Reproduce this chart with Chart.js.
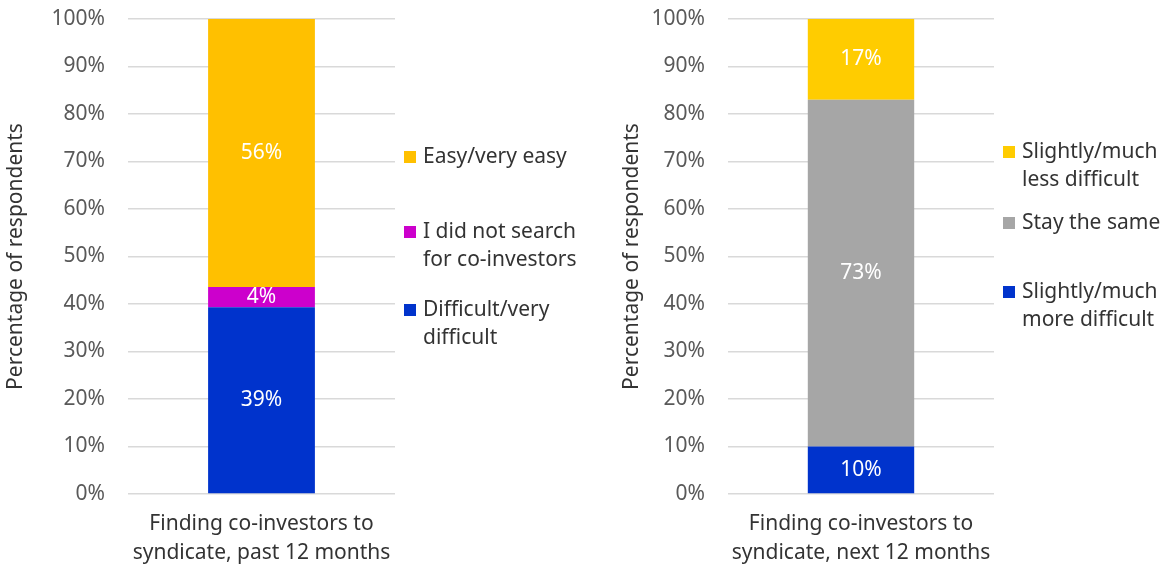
<!DOCTYPE html>
<html lang="en">
<head>
    <meta charset="UTF-8">
    <title>Finding co-investors to syndicate</title>
    <script src="https://cdn.jsdelivr.net/npm/chart.js"></script>
    <style>
        body { margin: 0; background: #fff; }
        #wrap { position: relative; width: 1167px; height: 567px; }
        #leftChart { position: absolute; left: 0; top: 0; }
        #rightChart { position: absolute; left: 600px; top: 0; }
    </style>
</head>
<body>
    <div id="wrap">
        <canvas id="leftChart" width="600" height="567"></canvas>
        <canvas id="rightChart" width="567" height="567"></canvas>
    </div>

    <script>
        // Data
        const pastCategory = [['Finding co-investors to', 'syndicate, past 12 months']];
        const pastSeries = ['Difficult/very difficult', 'I did not search for co-investors', 'Easy/very easy'];
        const pastLegendLines = [['Difficult/very', 'difficult'], ['I did not search', 'for co-investors'], ['Easy/very easy']];
        const pastValues = [39.3, 4.3, 56.4];
        const pastColors = ['#0033CC', '#CC00CC', '#FFC000'];

        const nextCategory = [['Finding co-investors to', 'syndicate, next 12 months']];
        const nextSeries = ['Slightly/much more difficult', 'Stay the same', 'Slightly/much less difficult'];
        const nextLegendLines = [['Slightly/much', 'more difficult'], ['Stay the same'], ['Slightly/much', 'less difficult']];
        const nextValues = [10, 73, 17];
        const nextColors = ['#0033CC', '#A6A6A6', '#FFCC00'];

        const yTicks = [0, 10, 20, 30, 40, 50, 60, 70, 80, 90, 100];

        const FONT = '"Noto Sans", "Open Sans", sans-serif';
        Chart.defaults.font.family = FONT;

        // white % labels in the middle of each segment
        const segmentLabels = {
            id: 'segmentLabels',
            afterDatasetsDraw(chart) {
                const ctx = chart.ctx;
                ctx.save();
                ctx.fillStyle = '#ffffff';
                ctx.font = '21px ' + FONT;
                ctx.textAlign = 'center';
                ctx.textBaseline = 'middle';
                chart.data.datasets.forEach((ds, i) => {
                    chart.getDatasetMeta(i).data.forEach((bar, j) => {
                        const p = bar.getCenterPoint();
                        ctx.fillText(Math.round(ds.data[j]) + '%', p.x, p.y);
                    });
                });
                ctx.restore();
            }
        };

        // legend on the right, items listed top to bottom (reverse of stack order)
        const sideLegend = {
            id: 'sideLegend',
            afterDraw(chart, args, opts) {
                const ctx = chart.ctx;
                const x = chart.chartArea.right + opts.offset;
                ctx.save();
                ctx.font = '21px ' + FONT;
                ctx.textBaseline = 'middle';
                ctx.textAlign = 'left';
                const n = chart.data.datasets.length;
                for (let k = 0; k < n; k++) {
                    const i = n - 1 - k;
                    const ds = chart.data.datasets[i];
                    const y0 = opts.tops[k];
                    ctx.fillStyle = ds.backgroundColor;
                    ctx.fillRect(x, y0 - 6, 12, 12);
                    ctx.fillStyle = '#333333';
                    opts.lines[i].forEach((line, l) => {
                        ctx.fillText(line, x + 19, y0 + l * 28);
                    });
                }
                ctx.restore();
            }
        };

        function makeChart(id, category, series, values, colors, legendLines, tops, padRight, titlePad) {
            const datasets = series.map((name, i) => ({
                label: name,
                data: [values[i]],
                backgroundColor: colors[i],
                borderWidth: 0,
                barPercentage: 0.4,
                categoryPercentage: 1
            }));
            return new Chart(document.getElementById(id), {
                type: 'bar',
                data: { labels: category, datasets: datasets },
                options: {
                    responsive: false,
                    animation: false,
                    layout: { padding: { left: 0, right: padRight, top: 0, bottom: 0 } },
                    plugins: {
                        legend: { display: false },
                        tooltip: { enabled: false },
                        sideLegend: { offset: 9, tops: tops, lines: legendLines }
                    },
                    scales: {
                        x: {
                            stacked: true,
                            grid: { display: false, drawTicks: false },
                            border: { display: false },
                            ticks: { color: '#333333', font: { size: 21, lineHeight: 1.35 }, padding: 16, maxRotation: 0 },
                            afterFit(s) { s.height = 73; }
                        },
                        y: {
                            stacked: true,
                            min: 0,
                            max: 100,
                            afterBuildTicks(s) { s.ticks = yTicks.map(v => ({ value: v })); },
                            ticks: {
                                color: '#595959',
                                font: { size: 21 },
                                padding: 23,
                                callback: v => v + '%'
                            },
                            grid: { color: '#D9D9D9', lineWidth: 1.5, drawTicks: false },
                            border: { display: false },
                            title: {
                                display: true,
                                text: 'Percentage of respondents',
                                color: '#333333',
                                font: { size: 21 },
                                padding: { top: titlePad, bottom: 0 }
                            },
                            afterFit(s) {
                                s.width = 128;
                                s.paddingTop = 19;
                                s.paddingBottom = 0;
                            }
                        }
                    }
                },
                plugins: [segmentLabels, sideLegend]
            });
        }

        makeChart('leftChart', pastCategory, pastSeries, pastValues, pastColors, pastLegendLines, [157, 232, 310], 205, 3);
        makeChart('rightChart', nextCategory, nextSeries, nextValues, nextColors, nextLegendLines, [152, 223, 292], 173, 19);
    </script>
</body>
</html>
